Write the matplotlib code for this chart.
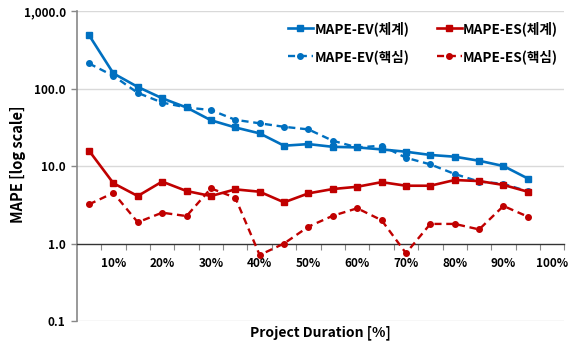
import matplotlib
matplotlib.use("Agg")
import matplotlib.pyplot as plt
from matplotlib.ticker import FixedLocator, NullFormatter, NullLocator

plt.rcParams['font.family'] = ['Noto Sans CJK KR', 'DejaVu Sans']

duration = [5, 10, 15, 20, 25, 30, 35, 40, 45, 50, 55, 60, 65, 70, 75, 80, 85, 90, 95]
ev_system = [490, 157, 105, 75, 57, 39, 31.5, 26.4, 18.3, 19.2, 17.7, 17.4, 16.4, 15.3, 13.9, 13.2, 11.7, 10.0, 6.9]
ev_core = [211, 146, 88, 66, 57, 52.8, 39.5, 35.6, 32.1, 29.7, 21.2, 17.4, 18.3, 12.8, 10.5, 7.9, 6.3, 5.9, 4.7]
es_system = [15.8, 6.0, 4.1, 6.3, 4.76, 4.1, 5.0, 4.66, 3.4, 4.44, 5.05, 5.4, 6.2, 5.57, 5.57, 6.6, 6.4, 5.7, 4.66]
es_core = [3.2, 4.5, 1.88, 2.5, 2.26, 5.15, 3.9, 0.71, 1.0, 1.65, 2.28, 2.85, 2.0, 0.75, 1.79, 1.79, 1.52, 3.05, 2.22]

label_ticks = [10, 20, 30, 40, 50, 60, 70, 80, 90, 100]
label_texts = ['10%', '20%', '30%', '40%', '50%', '60%', '70%', '80%', '90%', '100%']
y_ticks = [0.1, 1, 10, 100, 1000]
y_texts = ['0.1', '1.0', '10.0', '100.0', '1,000.0']

labels = ['MAPE-EV(체계)', 'MAPE-EV(핵심)', 'MAPE-ES(체계)', 'MAPE-ES(핵심)']

blue = '#0070C0'
red = '#C00000'

fig = plt.figure(figsize=(5.69, 3.47), dpi=100)
ax = fig.add_axes([0.135, 0.075, 0.857, 0.893])

ax.plot(duration, ev_system, color=blue, lw=1.9, marker='s', ms=5, label=labels[0], zorder=3)
ax.plot(duration, ev_core, color=blue, lw=1.7, ls=(0, (3, 2)), marker='o', ms=4, label=labels[1], zorder=3)
ax.plot(duration, es_system, color=red, lw=1.9, marker='s', ms=5, label=labels[2], zorder=3)
ax.plot(duration, es_core, color=red, lw=1.7, ls=(0, (3, 2)), marker='o', ms=4, label=labels[3], zorder=3)

ax.set_yscale('log')
ax.set_ylim(0.1, 1000)
ax.set_xlim(2.5, 102.5)

ax.yaxis.set_major_locator(FixedLocator(y_ticks))
ax.yaxis.set_minor_locator(NullLocator())
ax.set_yticklabels(y_texts, fontsize=8.5, fontweight='bold')
ax.tick_params(axis='y', length=4, color='#888888', width=1, pad=4)

# gridlines at decades except 1.0 (x-axis crosses there)
for v in [0.1, 10, 100, 1000]:
    ax.axhline(v, color='#D9D9D9', lw=1, zorder=0)

for s in ['top', 'right']:
    ax.spines[s].set_visible(False)
ax.spines['left'].set_color('#888888')
ax.spines['left'].set_linewidth(1.2)
ax.spines['bottom'].set_position(('data', 1.0))
ax.spines['bottom'].set_color('#333333')
ax.spines['bottom'].set_linewidth(1.0)

ax.xaxis.set_major_locator(FixedLocator([7.5 + 5 * i for i in range(20)]))
ax.xaxis.set_major_formatter(NullFormatter())
ax.tick_params(axis='x', which='major', length=4, color='#888888', direction='out')
ax.xaxis.set_minor_locator(FixedLocator(label_ticks))
ax.set_xticklabels(label_texts, minor=True, fontsize=8.5, fontweight='bold')
ax.tick_params(axis='x', which='minor', length=0, pad=10)

ax.set_xlabel('Project Duration [%]', fontsize=10, fontweight='bold')
ax.set_ylabel('MAPE [log scale]', fontsize=10.5, fontweight='bold')
ax.xaxis.set_label_coords(0.5, -0.015)
ax.yaxis.set_label_coords(-0.105, 0.506)

leg = ax.legend(loc='upper right', bbox_to_anchor=(1.012, 1.008), ncol=2, frameon=False,
                handlelength=1.85, columnspacing=2.0, handletextpad=0.1,
                labelspacing=1.0, numpoints=1, prop={'weight': 'bold', 'size': 9.8})

fig.savefig('out.png', dpi=100)
